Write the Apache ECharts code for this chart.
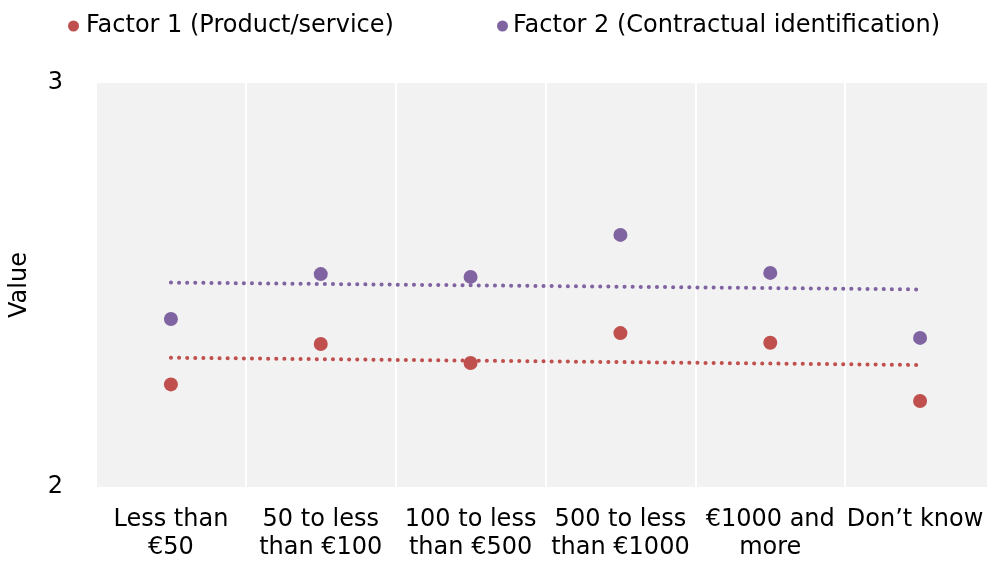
<!DOCTYPE html>
<html>
<head>
<meta charset="utf-8">
<script src="https://cdn.jsdelivr.net/npm/echarts@6/dist/echarts.min.js"></script>
<style>
html,body{margin:0;padding:0;background:#fff;}
#chart{width:987px;height:561px;}
</style>
</head>
<body>
<div id="chart"></div>
<script>
const categories = ['Less than\n€50', '50 to less\nthan €100', '100 to less\nthan €500', '500 to less\nthan €1000', '€1000 and\nmore', 'Don’t know'];
const factor1Name = 'Factor 1 (Product/service)';
const factor2Name = 'Factor 2 (Contractual identification)';
const factor1 = [2.254, 2.354, 2.307, 2.381, 2.357, 2.213];
const factor2 = [2.416, 2.527, 2.520, 2.624, 2.530, 2.369];
const trend1Ends = [2.320, 2.302];
const trend2Ends = [2.506, 2.489];
const yTicks = [2, 3];

const red = '#c0504d';
const purple = '#8064a2';
const font = 'Verdana, "DejaVu Sans", sans-serif';
const fs = 24;

const last = categories.length - 1;
const catData = categories.map((c, i) => i === last
  ? { value: c, textStyle: { padding: [0, 10, 0, 0] } }
  : c);

const chart = echarts.init(document.getElementById('chart'));
chart.setOption({
  animation: false,
  backgroundColor: '#ffffff',
  textStyle: { fontFamily: font },
  legend: [
    { left: 68, top: 14, padding: 0, icon: 'circle', itemWidth: 11, itemHeight: 11, itemGap: 5,
      data: [factor1Name], textStyle: { fontFamily: font, fontSize: fs, color: '#000', padding: [0,0,0,2] } },
    { left: 497, top: 14, padding: 0, icon: 'circle', itemWidth: 11, itemHeight: 11, itemGap: 5,
      data: [factor2Name], textStyle: { fontFamily: font, fontSize: fs, color: '#000', padding: [0,0,0,0] } }
  ],
  grid: { left: 96, right: -8, top: 83, bottom: 74, show: true, backgroundColor: '#f2f2f2', borderWidth: 0,
    containLabel: false, outerBoundsMode: 'none' },
  xAxis: {
    type: 'category', data: catData, boundaryGap: true,
    axisLine: { show: false }, axisTick: { show: false },
    splitLine: { show: true, lineStyle: { color: '#ffffff', width: 2 } },
    axisLabel: { interval: 0, fontFamily: font, fontSize: fs, color: '#000', lineHeight: 28, margin: 19 }
  },
  yAxis: {
    type: 'value', min: yTicks[0], max: yTicks[1], interval: 1,
    name: 'Value', nameLocation: 'middle', nameGap: 64, nameRotate: 90,
    nameTextStyle: { fontFamily: font, fontSize: fs, color: '#000' },
    axisLine: { show: false }, axisTick: { show: false }, splitLine: { show: false },
    axisLabel: { fontFamily: font, fontSize: fs, color: '#000', margin: 33 }
  },
  series: [
    { name: factor1Name, type: 'scatter', data: factor1, symbolSize: 14, itemStyle: { color: red, opacity: 1 }, z: 3 },
    { name: factor2Name, type: 'scatter', data: factor2, symbolSize: 14, itemStyle: { color: purple, opacity: 1 }, z: 3 },
    { name: 'trend1', type: 'line', data: [[0, trend1Ends[0]], [last, trend1Ends[1]]], symbol: 'none',
      lineStyle: { color: red, width: 4, type: [0.1, 8], cap: 'round' }, z: 2 },
    { name: 'trend2', type: 'line', data: [[0, trend2Ends[0]], [last, trend2Ends[1]]], symbol: 'none',
      lineStyle: { color: purple, width: 4, type: [0.1, 8], cap: 'round' }, z: 2 }
  ]
});
</script>
</body>
</html>
